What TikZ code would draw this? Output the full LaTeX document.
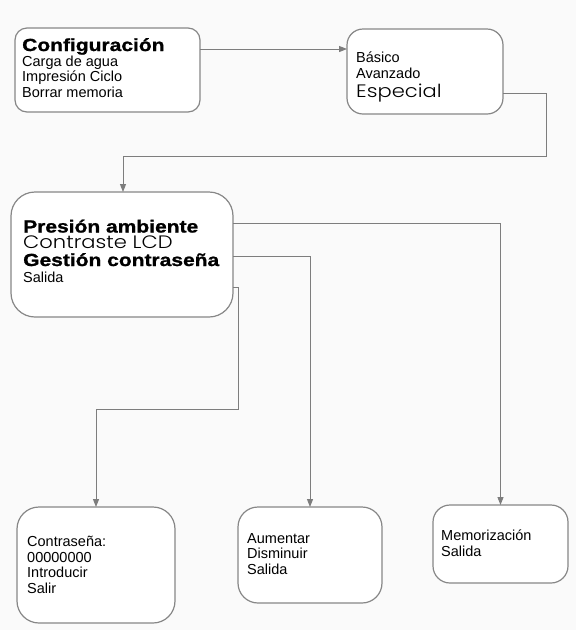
\documentclass[tikz,border=0pt]{standalone}
\usepackage{fontspec}
\setmainfont{Liberation Sans}
\newfontfamily\heavyfont[FakeStretch=1.2,FakeBold=1.2]{Liberation Sans Bold}
\newfontfamily\lightfont[FakeStretch=1.17]{Poppins Light}
\usetikzlibrary{arrows.meta}
\definecolor{linegray}{RGB}{125,125,125}
\definecolor{boxgray}{RGB}{135,135,135}
\definecolor{bgcol}{RGB}{250,250,250}
\tikzset{
  box/.style={draw=boxgray, line width=1.2pt, fill=white, inner sep=0pt, outer sep=0pt},
  conn/.style={draw=linegray, line width=1pt},
  arr/.style={conn, -{Triangle[length=8pt,width=6pt]}},
  txt/.style={anchor=base west, inner sep=0pt, font=\fontsize{14.5}{15.5}\selectfont},
  heavy/.style={anchor=base west, inner sep=0pt, font=\heavyfont\fontsize{17.5}{20}\selectfont},
  light/.style={anchor=base west, inner sep=0pt, font=\lightfont\fontsize{18}{20}\selectfont},
}
\begin{document}
\begin{tikzpicture}[x=1pt,y=-1pt]
\fill[bgcol] (0,0) rectangle (576,630);
\useasboundingbox (0,0) rectangle (576,630);

% boxes
\node[box, rounded corners=12pt, minimum width=185pt, minimum height=84pt] (b1) at (107.5,70) {};
\node[box, rounded corners=16pt, minimum width=156pt, minimum height=85pt] (b2) at (425,71.5) {};
\node[box, rounded corners=24pt, minimum width=222pt, minimum height=125pt] (b3) at (122,254.5) {};
\node[box, rounded corners=22pt, minimum width=158pt, minimum height=116pt] (b4) at (96,565) {};
\node[box, rounded corners=20pt, minimum width=144pt, minimum height=96pt] (b5) at (310,555) {};
\node[box, rounded corners=17pt, minimum width=135pt, minimum height=78pt] (b6) at (500.5,544) {};

% texts box 1
\node[heavy] (t11) at (22,51) {Configuración};
\node[txt] (t12) at (22,66) {Carga de agua};
\node[txt] (t13) at (22,81.5) {Impresión Ciclo};
\node[txt] (t14) at (22,97) {Borrar memoria};
% box 2
\node[txt] (t21) at (356,62) {Básico};
\node[txt] (t22) at (356,78) {Avanzado};
\node[light] (t23) at (356,97) {Especial};
% box 3
\node[heavy, text depth=0pt] (t31) at (23,232.5) {Presión ambiente};
\node[light, text depth=0pt, text height=13pt] (t32) at (23,248.5) {Contraste LCD};
\node[heavy, text height=13pt] (t33) at (23,266) {Gestión contraseña};
\node[txt] (t34) at (23,282.5) {Salida};
% box 4
\node[txt] (t41) at (27,546) {Contraseña:};
\node[txt] (t42) at (27,562) {00000000};
\node[txt] (t43) at (27,577) {Introducir};
\node[txt] (t44) at (27,593) {Salir};
% box 5
\node[txt] (t51) at (247,543) {Aumentar};
\node[txt] (t52) at (247,558) {Disminuir};
\node[txt] (t53) at (247,574) {Salida};
% box 6
\node[txt] (t61) at (441,540) {Memorización};
\node[txt] (t62) at (441,556) {Salida};

% connectors
\coordinate (p1) at ([yshift=21pt]b1.east);
\draw[arr] (p1) -- (p1 -| b2.west);

\coordinate (p2) at ([yshift=-22pt]b2.east);
\coordinate (k1) at (546,156);
\coordinate (k2) at (123,156);
\draw[arr] (p2) -| (k1) -- (k2) -- (k2 |- b3.north);

\coordinate (p3) at ([yshift=31.5pt]b3.east);
\draw[arr] (p3) -| (b6.north);

\coordinate (p4) at ([yshift=-1.5pt]b3.east);
\draw[arr] (p4) -| (b5.north);

\coordinate (p5) at ([yshift=-32.5pt]b3.east);
\coordinate (k3) at (238,409);
\draw[arr] (p5) -| (k3) -| (b4.north);
\end{tikzpicture}
\end{document}
